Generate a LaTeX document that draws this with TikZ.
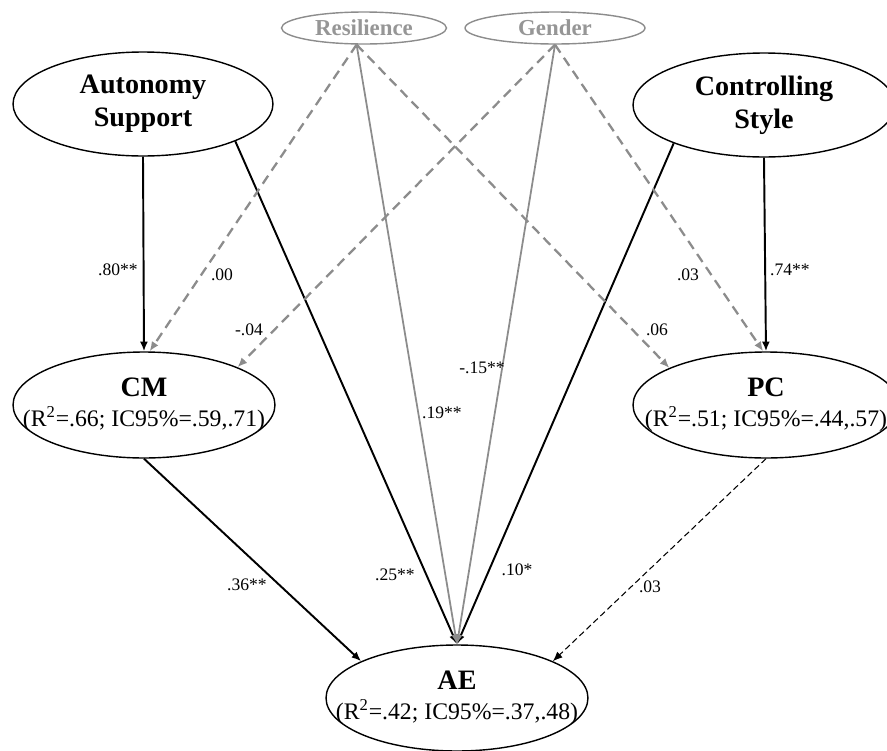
\documentclass[tikz,border=0pt]{standalone}
\usepackage{fontspec}
\setmainfont{Liberation Serif}
\usetikzlibrary{arrows.meta,shapes.geometric}

\definecolor{covgray}{RGB}{140,140,140}
\definecolor{covtext}{RGB}{150,150,150}
\newcommand{\statfont}{\fontsize{13.5}{16}\selectfont\mdseries}

\tikzset{
  latent/.style={ellipse, draw, line width=0.8pt, inner xsep=-2cm, inner ysep=-1cm,
    align=center, font=\fontsize{16}{19}\selectfont\bfseries},
  covariate/.style={ellipse, draw=covgray, line width=0.8pt, inner xsep=-2cm, inner ysep=-1cm,
    text=covtext, font=\fontsize{13}{15}\selectfont\bfseries},
  effect/.style={line width=1.1pt, -{Latex[length=5.5pt,width=4.5pt]}},
  weakeffect/.style={line width=0.6pt, dash pattern=on 3.5pt off 2pt, -{Latex[length=5.5pt,width=4.5pt]}},
  coveffect/.style={covgray, line width=1pt, -{Latex[length=5.5pt,width=4.5pt]}},
  covdashed/.style={covgray, line width=1.3pt, dash pattern=on 5.5pt off 3.5pt, -{Latex[length=5.5pt,width=4.5pt]}},
  coef/.style={font=\fontsize{10}{12}\selectfont, inner sep=1pt}
}

\begin{document}
\begin{tikzpicture}[x=0.02cm,y=-0.02cm]
\useasboundingbox (0,0) rectangle (887,751);

\node[covariate, minimum width=3.3cm, minimum height=0.64cm] (rs) at (364,28) {Resilience};
\node[covariate, minimum width=3.6cm, minimum height=0.64cm] (gd) at (555,28) {Gender};

\node[latent, minimum width=5.2cm, minimum height=2.08cm] (as) at (143,104) {Autonomy\\Support};
\node[latent, minimum width=5.24cm, minimum height=2.08cm] (cs) at (764,105) {Controlling\\Style};

\node[latent, minimum width=5.24cm, minimum height=2.12cm] (cm) at (144,405)
  {CM\\[-2pt]{\statfont (R\textsuperscript{2}=.66; IC95\%=.59,.71)}};
\node[latent, minimum width=5.32cm, minimum height=2.12cm] (pc) at (766,405)
  {PC\\[-2pt]{\statfont (R\textsuperscript{2}=.51; IC95\%=.44,.57)}};
\node[latent, minimum width=5.24cm, minimum height=2.12cm] (ae) at (457,698)
  {AE\\[-2pt]{\statfont (R\textsuperscript{2}=.42; IC95\%=.37,.48)}};

% direct paths
\draw[effect] (as.south) -- (cm.north);
\draw[effect] (as.-22) -- (ae.north);
\draw[effect] (cs.south) -- (pc.north);
\draw[effect] (cs.-157) -- (ae.north);
\draw[effect] (cm.south) -- (ae.159);
\draw[weakeffect] (pc.south) -- (ae.21);

% covariates
\draw[covdashed] (rs.-114) -- (cm.84);
\draw[covdashed] (rs.-114) -- (pc.159);
\draw[coveffect] (rs.-114) -- (ae.north);
\draw[covdashed] (gd.south) -- (cm.22);
\draw[covdashed] (gd.south) -- (pc.93);
\draw[coveffect] (gd.south) -- (ae.north);

\node[coef] (c80) at (118,270) {.80**};
\node[coef] (c00) at (222,275) {.00};
\node[coef] (c04) at (249,330) {-.04};
\node[coef] (c15) at (482,368) {-.15**};
\node[coef] (c19) at (442,413) {.19**};
\node[coef] (c03a) at (688,275) {.03};
\node[coef] (c06) at (657,330) {.06};
\node[coef] (c74) at (790,270) {.74**};
\node[coef] (c36) at (247,585) {.36**};
\node[coef] (c25) at (395,575) {.25**};
\node[coef] (c10) at (517,570) {.10*};
\node[coef] (c03b) at (650,587) {.03};

\end{tikzpicture}
\end{document}
